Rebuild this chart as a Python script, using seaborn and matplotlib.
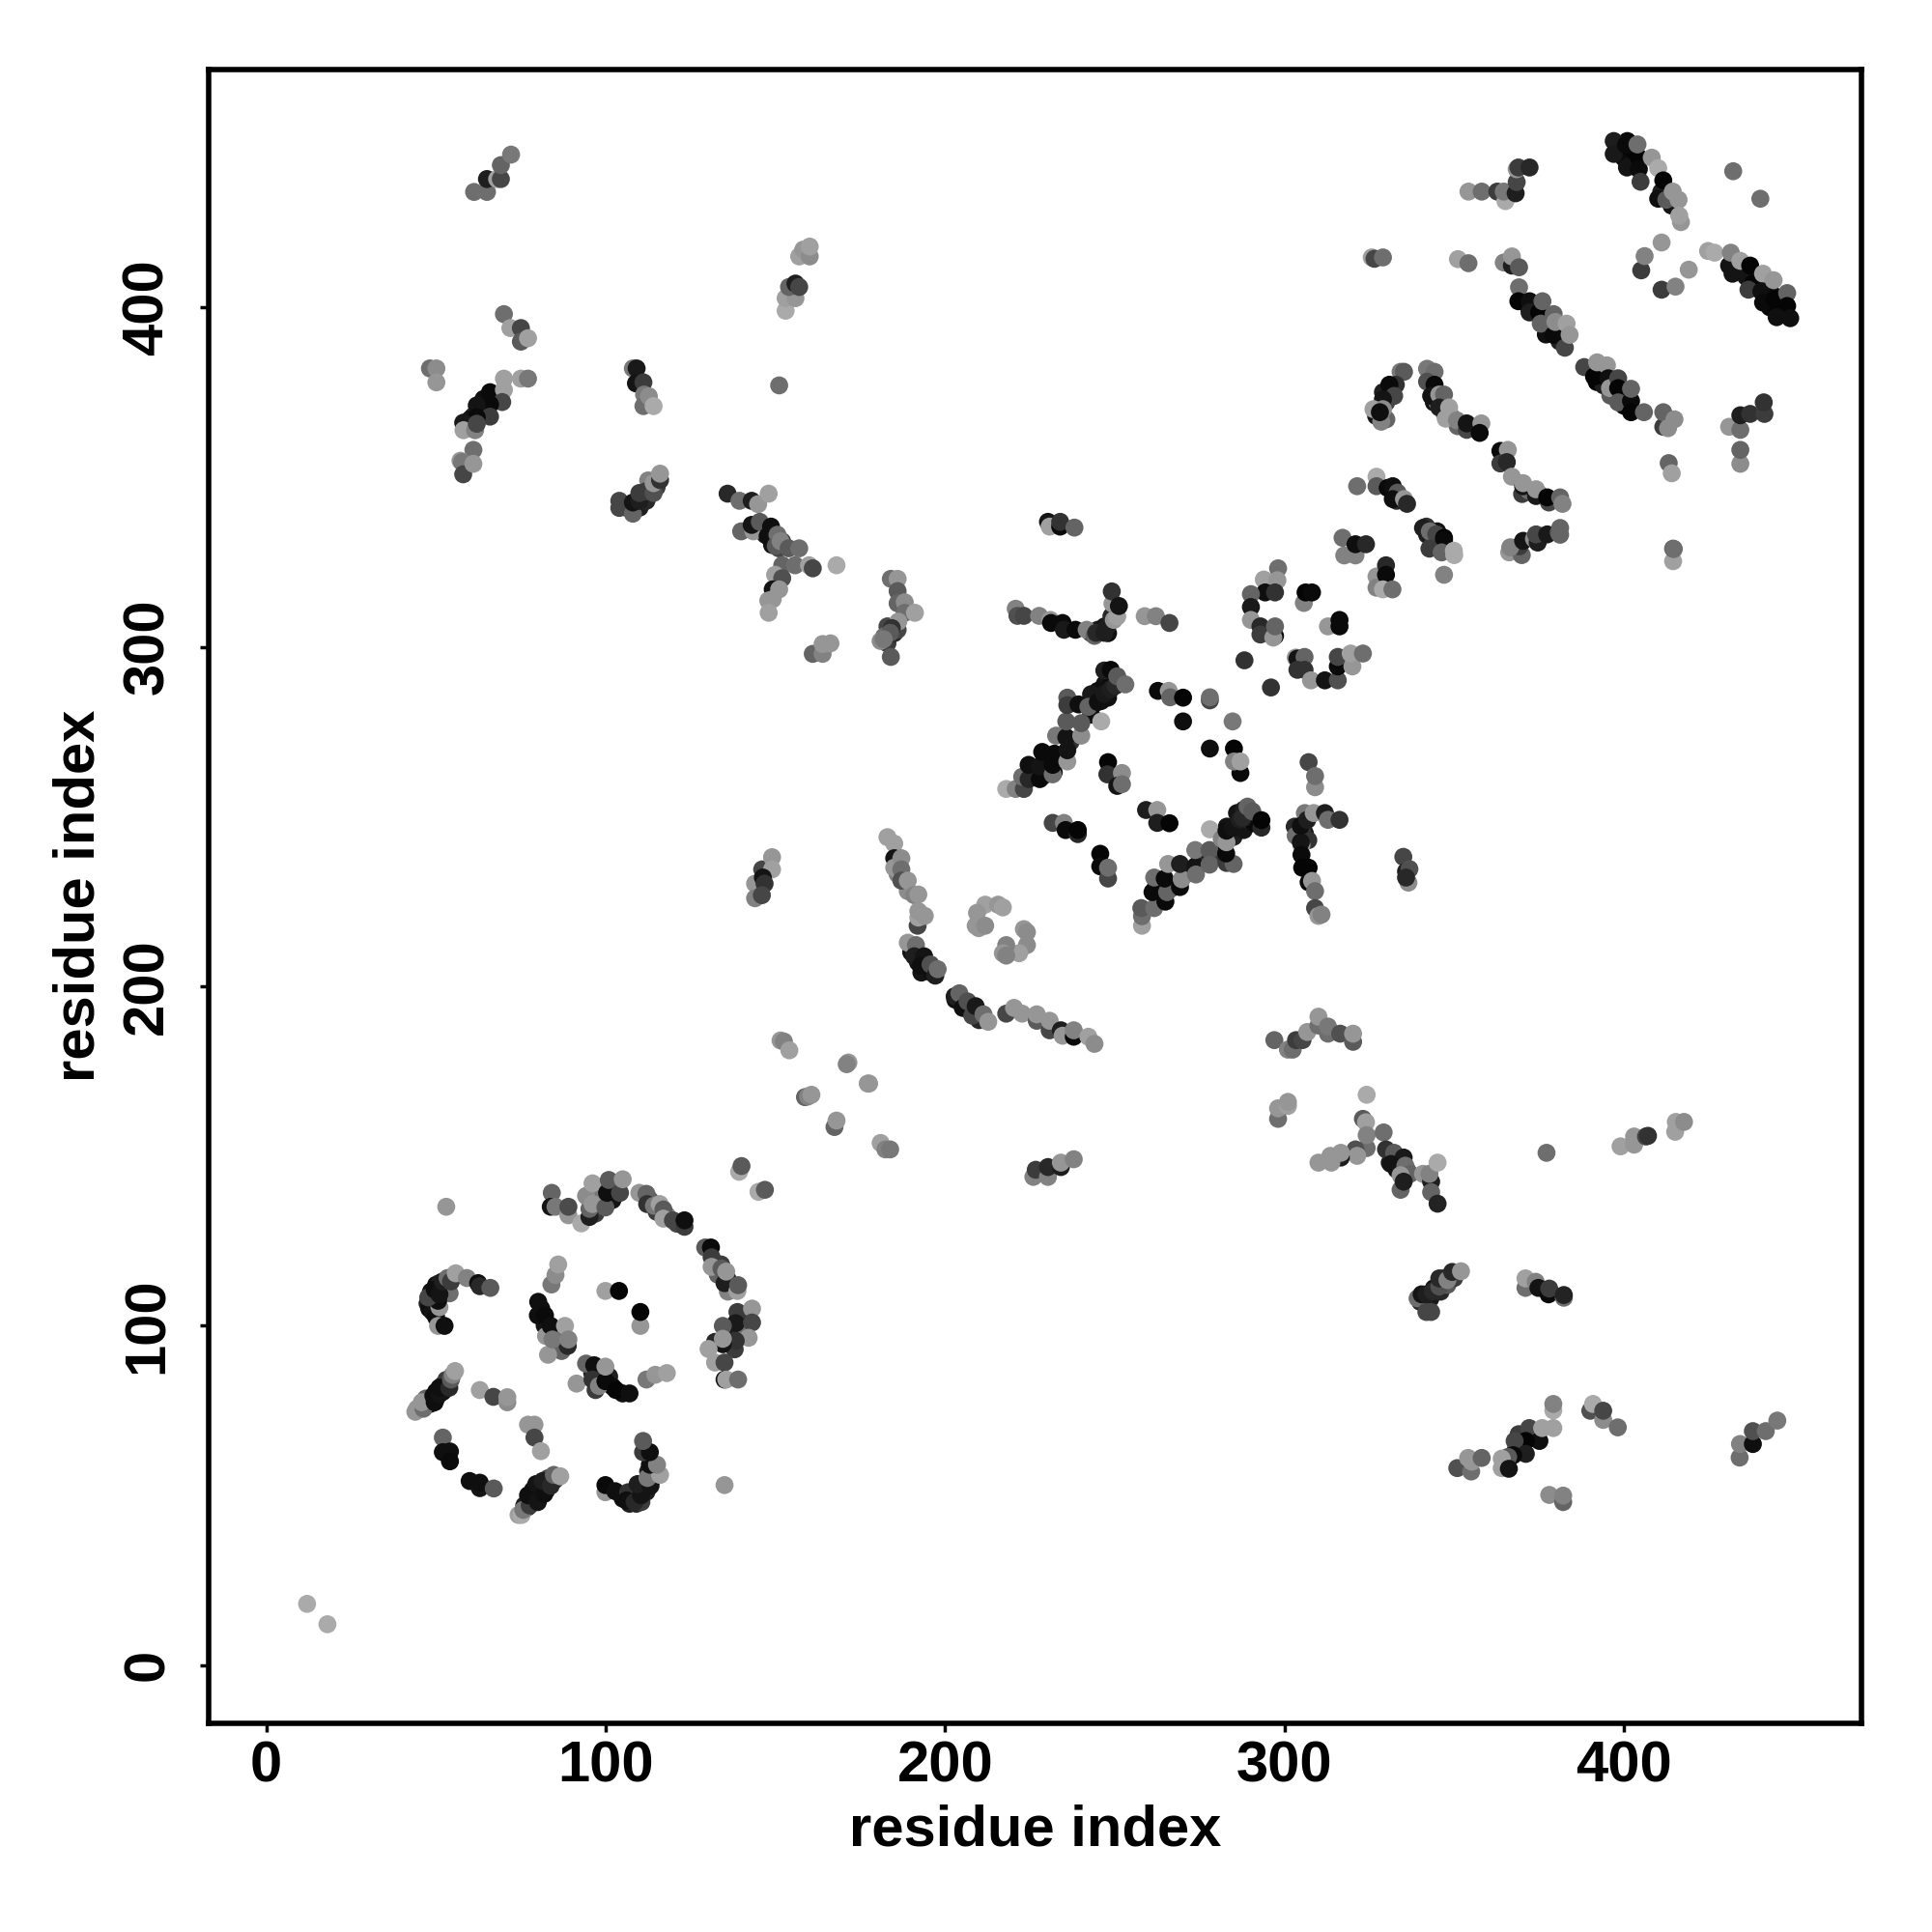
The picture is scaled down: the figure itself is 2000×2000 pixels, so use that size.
import numpy as np
import pandas as pd
import matplotlib
matplotlib.use("Agg")
import matplotlib.pyplot as plt
import seaborn as sns

# contact points as (residue i, residue j, grey level)
termini = [(12, 18, 170), (18, 12, 170)]

# points mostly hidden inside the dense bands, drawn first
dense_bands = [
    (47.5,106.5,30),(48,105,15),(49,104,20),(50,102.5,15),(48.5,110,20),(50,112,15),(51,112.5,30),(53,111,10),(54,109.5,110),
    (47,76.5,60),(48,78,40),(50,78.5,10),(50,80.5,10),(52,80.5,15),(52,82.5,30),(53,84,60),(47,78.5,100),(48.5,77,15),
    (76,47,30),(77,46.5,40),(78,48.5,15),(79,50,15),(78.5,51.5,20),(81,51,15),(80.5,52.5,15),(83,53.5,30),(82.5,51.5,20),(85,54.5,60),(83,55,70),
    (105,49,15),(107,47.5,30),(108,50,15),(109,47.5,40),(110.5,48,60),(112,51,30),(111,53,20),(113.5,54.5,50),(112.5,57,30),(114,57,120),
    (134,118,60),(133,115,100),(136,113.5,40),(136,110,130),(139,102,40),(141,103,30),(136,97,30),(140,98,60),(138,93,60),(141,99,110),
    (97,133,60),(97,137,140),(98,140,120),(102,141,30),(102,137,20),(103,142,60),(113,137,90),(115,133.5,60),(118,132.5,130),(121,130,70),
    (81,105,15),(82,100,20),(85,98,30),(86,97,100),(87,92.5,100),(96,86,40),(97,81,60),(101,85,30),(102,82,15),(105,80,15),
    (59.5,364.5,60),(61,368,40),(63.5,369,20),(64,373,15),(67,374,20),(60,367,20),(106,341,60),(110,341,30),(112,343,40),(113,347,100),(115,347,60),(112.5,349,130),
    (146,335,60),(147,333,40),(149,332,20),(151,329,70),(149,330,20),(152,331,60),(183,306,70),(182,303,110),(183,301,60),(185,304,40),(186,305,70),
    (232,263,20),(234,267,10),(229,266,10),(229,262,30),(226,263,15),(237,272,50),(243,280,15),(244,285,10),(246,284,20),(248,285,15),(247,289,20),(249,289,10),(251,290,30),(245,287,15),(243,286,25),
    (245,305,30),(247,306,20),(248,304,15),(243,304,60),(249,309,40),
    (283,247,20),(285,244,30),(286,247,15),(288,246,20),(286,251,20),(288,252,30),(289,249,30),(291,248,10),(262,229,10),(267,229,40),(271,233,30),(275,237,40),(279,238,60),(282,241,20),
    (303,247,40),(306,245,25),(305,246,60),(307,243,50),(306,251,120),
    (400,444,10),(402,442,15),(398,447,5),(401,449,10),(403,446,5),(412,434,10),(414,430,20),(411,434,30),
    (436,409,20),(438,407,5),(440,406,5),(442,403,5),(443,400,5),(446,400,5),(447,398,10),(443,405,5),(445,403,15),
    (372,400,30),(374,400,5),(377,397,5),(378,394,20),(380,392,15),(381,390,30),(377,392,15),
    (392,378,5),(394,377,30),(397,375,10),(399,373,5),(400,371,5),(401,374,10),(393,380,10),(396,374,90),
    (344,372,20),(345,372,110),(347,369,120),(349,368,110),(351,365,100),(329,375,30),(330,372,70),(331,374,30),(327,368,20),(329,368,60),(330,367,100),
    (370,345,60),(372,346,110),(375,345,120),(332,345,20),(334,344,10),(333,343,40),(342,333,30),(344,331,60),(345,334,20),
    (340,107,40),(342,107,15),(343,108,25),(344,111,20),(346,110,40),(348,112,90),(347,114,80),(350,114,60),
    (331,148,30),(333,148,50),(333,146,15),(335,145,60),(336,146,30),(332,149,70),(368,63,15),(369,63,40),(369,68,60),(373,67,5),
    (190,210,20),(191,210,60),(192,207,15),(194,207,5),(195,205,30),(193,204,20),(196,204,15),(205,195,25),(207,193,30),(208,193,15),(203,196,15),(210,190,40),
    (186,233,130),(189,228,140),
]

domain_one = [
    (53.0,135.0,150),(84.1,139.1,100),(83.8,135.0,20),(85.2,135.0,120),(89.0,132.5,150),(89.0,135.0,75),
    (92.8,130.1,170),(95.2,132.0,30),(95.2,134.4,100),(94.2,138.2,140),(96.1,135.8,150),(96.1,141.9,160),
    (99.9,134.8,90),(100.4,139.1,15),(100.9,142.9,90),(104.2,139.1,70),(105.0,143.1,150),
    (109.9,139.1,150),(112.0,138.8,100),(112.2,135.8,50),(114.2,135.3,120),(115.9,135.8,160),(117.0,134.2,90),
    (117.0,131.5,160),(119.8,131.0,70),(123.2,129.1,60),(123.2,131.0,15),
    (129.3,123.0,90),(131.0,123.0,10),(131.2,120.1,60),(131.2,117.3,150),(134.1,116.8,90),(135.0,112.5,30),
    (135.5,115.9,150),(138.8,110.2,160),(139.0,111.9,90),
    (138.8,104.0,60),(143.1,105.0,150),(138.3,100.7,25),(143.1,100.9,70),(134.5,99.9,90),(142.1,96.4,150),
    (138.3,95.5,50),(132.2,95.2,40),(134.5,94.5,20),(134.5,96.1,150),(130.3,93.1,160),(132.2,89.1,160),
    (135.0,89.1,70),(135.0,84.1,20),(135.5,84.1,160),(139.0,84.1,110),
    (99.9,110.2,160),(103.9,110.2,5),(110.2,99.9,150),(110.2,104.0,5),
    (84.0,112.1,120),(85.2,114.9,140),(86.0,118.0,160),(80.1,107.0,15),(80.0,103.0,15),(82.1,103.0,10),
    (82.4,96.9,150),(83.8,99.9,15),(88.0,99.9,160),(83.0,91.4,150),(88.8,94.0,40),(84.3,95.9,120),(89.0,95.9,130),
    (91.4,82.9,150),(94.2,88.8,100),(96.6,88.3,15),(96.1,84.1,50),(98.0,82.2,130),(99.9,83.6,10),(99.9,87.9,150),
    (103.0,81.0,5),(107.0,80.0,15),(112.0,84.1,120),(114.6,85.5,150),(118.0,86.0,160),
    (50.6,99.9,150),(52.5,99.9,15),(51.0,105.4,150),(50.6,107.3,15),(47.7,108.3,70),(49.6,110.6,15),(51.0,109.2,20),
    (52.0,113.0,30),(53.4,114.0,110),(54.4,113.0,60),(55.8,115.4,160),(59.1,114.0,130),(62.4,112.5,15),(62.9,111.6,40),(66.0,111.1,90),
    (43.9,74.6,150),(44.4,75.5,150),(46.3,75.5,110),(45.8,77.4,150),(49.6,77.4,15),(49.2,79.3,15),(51.0,79.8,20),
    (51.0,81.7,15),(53.9,81.7,40),(54.4,84.1,90),(54.9,85.5,130),(55.6,86.6,160),
    (62.9,81.0,160),(66.9,79.0,70),(71.0,77.4,140),(71.0,78.9,150),
    (52.0,67.0,100),(52.0,62.7,15),(54.1,62.9,15),(54.1,60.0,10),(59.9,54.2,15),(62.9,52.1,20),(62.9,53.7,15),(67.0,52.0,90),
    (77.1,70.8,150),(79.0,70.8,150),(79.0,67.0,70),(80.9,63.0,160),
    (74.3,44.2,160),(75.2,44.2,170),(75.7,45.7,120),(77.6,47.0,60),(77.1,50.0,15),(80.0,48.0,20),(79.5,53.3,20),
    (81.9,50.4,15),(81.4,54.2,30),(83.8,52.8,40),(84.7,56.0,100),(86.6,55.6,160),
    (99.9,50.9,150),(99.9,53.0,10),(102.8,51.2,15),(106.6,50.9,50),(106.1,48.5,15),(108.5,48.0,40),(110.4,50.0,20),
    (109.4,53.3,30),(113.2,52.8,20),(112.3,55.1,120),(116.0,56.0,160),(113.0,59.0,15),(115.1,59.0,130),(111.0,62.7,60),(113.0,62.7,15),(111.0,66.0,90),
    (135.0,53.0,150),(139.3,145.3,170),(140.0,147.0,90),(145.0,139.4,170),(146.9,140.0,90),
]

upper_left = [
    (61.2,434.0,110),(65.0,434.0,110),(65.0,437.8,30),(68.0,437.8,160),(69.1,437.8,70),(69.1,441.9,100),(72.1,445.0,120),
    (70.0,398.0,110),(71.9,393.9,160),(75.0,393.9,70),(75.0,389.9,90),(77.1,390.9,160),
    (48.2,382.0,110),(50.1,382.0,140),(50.1,377.9,150),
    (70.0,379.0,160),(75.0,379.0,160),(77.1,379.0,120),(65.9,375.0,10),(70.0,375.7,160),(69.5,372.1,70),(65.9,371.4,10),
    (62.0,371.1,20),(65.9,367.8,60),(62.0,367.6,10),(58.0,366.0,25),(58.1,363.8,160),(61.5,363.8,130),(62.0,365.7,70),
    (61.0,358.0,110),(57.2,354.8,150),(57.7,354.4,120),(58.0,350.8,70),(61.0,353.9,150),
    (108.0,382.0,120),(109.1,382.0,25),(108.9,377.6,20),(111.1,377.9,60),(111.3,374.3,120),(111.1,370.9,110),(112.7,373.8,140),(114.1,370.9,170),
    (151.1,377.0,110),(153.0,399.0,170),(153.0,402.7,160),(155.9,402.7,150),(154.0,406.0,100),(155.9,407.0,30),(157.0,406.0,70),
    (157.0,415.0,160),(158.2,417.0,150),(160.1,415.0,140),(160.1,417.9,160),
    (104.0,340.9,70),(104.0,343.0,70),(108.0,339.2,100),(108.0,342.5,20),(109.9,343.0,30),(109.9,345.3,60),(111.8,345.8,60),
    (114.1,345.3,80),(114.1,348.2,150),(116.0,349.1,50),(116.0,351.0,150),
    (135.9,345.1,40),(139.4,343.0,110),(143.0,343.0,30),(144.9,342.0,150),(148.0,345.1,160),(139.9,334.0,100),(143.5,334.0,150),(143.0,335.9,20),
    (145.4,336.8,90),(147.7,332.6,15),(148.7,335.4,15),(150.6,333.0,110),(150.1,329.7,90),(151.5,331.1,130),(153.9,329.0,90),(157.0,329.0,110),
    (152.0,324.0,100),(155.8,324.0,110),(159.9,324.0,160),(161.0,323.1,70),(168.0,324.0,170),
    (149.9,321.2,160),(152.0,320.2,80),(149.2,316.9,20),(151.1,316.9,150),(149.2,314.0,150),(147.9,313.6,150),(148.0,310.0,160),
    (161.0,297.9,100),(163.9,297.9,130),(163.9,300.8,150),(166.2,301.0,150),
    (184.0,320.0,110),(186.0,320.0,150),(186.0,316.4,90),(186.0,312.8,100),(188.1,313.1,140),(188.1,310.0,110),(191.1,310.0,160),
    (186.2,307.4,150),(184.3,305.5,50),(183.8,304.1,90),(181.0,301.7,140),(181.9,302.2,120),(184.0,297.0,90),
    (230.3,336.8,20),(230.8,335.4,160),(233.9,335.4,10),(233.9,336.8,50),(238.1,335.1,100),
]

mid_band = [
    (220.8,311.2,130),(221.3,309.1,80),(223.2,309.1,70),(227.7,309.1,130),(231.0,307.9,150),(231.2,307.0,10),(234.6,307.0,10),
    (235.0,305.0,25),(238.4,305.0,10),(241.7,305.0,130),(244.0,303.2,100),(244.5,304.1,40),(246.9,304.1,30),(247.8,306.0,30),
    (249.7,307.9,150),(250.7,308.9,160),(249.3,312.7,150),(249.1,316.3,50),(251.2,312.0,20),
    (258.8,309.0,150),(262.1,309.0,130),(266.1,307.0,70),
    (218.0,258.1,170),(220.8,258.1,130),(223.2,258.1,70),(222.7,261.7,110),(224.6,261.0,40),(224.6,265.2,15),(227.9,261.0,10),
    (227.9,264.7,20),(231.7,262.4,110),(231.7,265.2,10),(228.6,269.0,10),(232.2,268.5,10),(236.0,266.2,150),(236.0,269.5,20),
    (232.7,273.8,120),(235.7,273.3,20),(240.1,273.8,140),(240.1,277.5,90),(235.7,278.0,90),(246.0,278.0,170),
    (236.0,285.0,90),(236.0,282.8,60),(239.3,283.0,15),(242.2,282.3,100),(245.0,283.7,15),(246.9,286.1,25),(248.8,287.5,30),
    (250.2,288.5,40),(246.9,293.0,30),(248.8,293.2,10),(250.7,291.3,90),(253.1,288.9,110),
    (262.7,287.0,10),(265.9,287.0,150),(266.3,285.1,100),(270.1,285.0,5),(278.0,284.2,70),(278.0,285.1,110),(270.1,278.0,15),(284.7,278.0,120),
    (278.0,270.0,15),(285.1,270.0,5),(287.0,262.8,10),(285.1,266.2,130),(287.0,266.2,160),
    (248.0,266.0,5),(247.8,262.4,50),(252.1,262.8,140),(250.7,259.0,20),(252.1,259.5,110),
    (259.2,251.9,30),(262.5,251.9,150),(262.5,248.1,30),(266.1,248.0,5),
    (231.7,248.1,70),(235.0,248.1,130),(235.5,246.0,10),(239.1,244.8,40),(239.1,246.0,5),
    (245.7,239.0,5),(245.7,235.3,10),(248.0,231.7,70),(248.0,234.9,110),
    (258.0,217.8,160),(258.0,220.6,110),(257.8,223.0,90),(261.6,223.0,110),(261.1,227.7,10),(264.9,224.9,10),(265.4,227.7,100),
    (261.6,232.0,110),(264.7,231.7,10),(269.2,229.2,10),(269.7,231.5,140),(265.7,236.0,150),(269.2,236.0,30),(273.7,235.3,20),
    (273.9,232.9,110),(273.7,240.1,120),(277.9,240.1,90),(277.9,235.8,100),(282.9,236.3,60),(285.0,236.0,100),(282.8,239.1,10),
    (278.0,246.2,170),(281.5,243.4,130),(282.9,242.4,150),(282.9,245.8,15),(284.8,246.7,20),(286.8,249.1,30),(287.7,249.6,40),
    (289.1,252.9,100),(290.5,251.5,90),(293.2,246.7,40),(293.2,248.9,5),
    (307.1,266.0,70),(309.0,258.6,140),(309.0,261.9,110),
    (303.3,244.3,110),(305.0,241.5,150),(304.8,242.4,20),(304.8,247.2,15),(306.7,249.0,30),(308.6,251.0,150),(311.9,251.0,30),(312.8,249.0,110),(316.2,249.0,50),
    (305.0,238.7,10),(305.2,234.9,5),(307.1,234.9,5),(307.1,230.6,10),(308.1,231.0,150),(309.0,228.0,110),(309.0,223.0,70),(310.0,220.7,150),(310.9,221.1,130),
    (335.0,238.1,70),(335.8,233.8,30),(336.8,234.5,80),(336.5,230.5,140),(335.8,232.0,40),
    (298.1,323.1,110),(293.9,319.8,160),(297.9,319.6,150),(294.3,316.0,15),(297.2,316.0,50),(290.1,315.5,100),(290.1,311.7,25),(290.1,307.9,150),
    (292.9,306.0,40),(292.9,303.6,60),(297.2,303.2,10),(296.7,302.7,150),(297.2,306.0,100),
    (305.7,312.9,130),(306.2,316.0,5),(308.1,316.0,10),(312.8,306.0,150),(316.2,307.9,10),(316.2,306.0,10),
    (288.2,296.0,50),(296.0,288.0,50),
    (303.3,296.8,150),(303.8,296.5,20),(305.9,297.0,100),(303.8,293.2,50),(305.9,293.2,50),(307.8,290.1,150),(311.9,290.1,20),(315.7,290.1,80),
    (315.7,294.2,10),(315.7,297.0,70),(320.0,294.2,150),(319.5,298.0,160),(323.1,298.0,110),
    (317.6,326.9,130),(320.9,326.9,130),(317.1,332.1,110),(320.9,330.2,15),(324.0,330.2,40),(327.1,320.7,150),(327.1,317.4,130),
    (329.9,324.0,40),(329.9,321.2,10),(329.0,316.9,170),(331.8,316.9,110),
]

upper_right = [
    (321.4,347.3,110),(327.1,350.1,170),(327.1,347.3,90),(330.4,346.8,10),(331.9,347.3,15),(333.3,345.4,90),(331.9,343.5,15),(335.2,343.5,150),(336.1,342.1,40),
    (341.8,335.4,50),(340.8,335.0,30),(342.8,334.0,110),(344.7,333.1,70),(347.0,332.1,5),(347.0,331.4,10),(342.7,328.9,60),(346.3,327.8,100),(349.9,328.3,170),(350.0,327.0,170),(347.0,321.2,130),
    (366.2,327.8,150),(369.9,327.0,100),(369.2,329.6,60),(366.5,329.3,130),(370.3,331.2,20),(373.5,331.8,140),(374.6,330.7,30),(374.1,333.1,70),(377.4,333.1,25),(380.8,333.6,90),(381.2,333.0,100),(381.2,335.0,100),
    (414.5,325.2,160),(414.5,328.9,90),(414.7,328.8,110),
    (342.0,381.9,120),(344.2,381.0,110),(342.0,378.1,80),(344.2,377.2,10),(343.2,373.9,20),(345.6,374.3,150),(347.0,374.3,100),(345.6,370.5,30),(348.5,370.5,160),
    (347.5,367.2,160),(350.8,366.7,130),(353.7,363.9,70),(353.7,365.8,20),(358.0,365.8,150),(357.5,363.0,10),
    (334.2,381.0,120),(335.2,381.0,90),(332.8,377.2,50),(330.9,377.2,10),(332.3,373.9,70),(329.0,372.9,20),(326.2,370.0,160),(329.0,370.0,140),(328.5,366.3,130),(328.1,369.1,15),
    (363.6,357.7,10),(365.8,358.0,150),(363.6,354.0,60),(365.5,354.4,40),(367.0,350.1,150),(370.3,347.3,20),(370.3,348.2,150),(374.1,344.4,25),(374.1,346.4,150),
    (377.9,342.5,70),(377.4,344.0,5),(381.2,344.0,100),(381.9,342.1,130),
    (388.3,382.4,70),(391.2,379.6,5),(392.1,383.8,150),(395.0,382.9,150),(395.4,379.1,15),(395.9,376.2,150),(398.3,379.1,70),(398.3,376.2,5),(398.3,372.0,90),
    (402.1,372.4,10),(402.1,369.1,5),(402.1,376.0,100),(405.9,369.1,100),(411.6,364.8,60),(411.6,369.1,100),(413.0,364.4,140),(414.9,367.0,140),
    (413.2,354.1,100),(414.1,351.1,160),(434.3,353.9,140),(434.3,358.0,100),(431.0,364.8,150),(434.3,363.9,110),(434.3,368.2,30),(437.2,368.6,50),(441.4,368.6,60),(441.2,372.0,50),
    (369.1,405.9,110),(368.9,401.8,5),(372.2,401.8,15),(372.2,398.5,30),(375.0,398.5,5),(376.0,401.8,100),(379.3,398.0,100),(375.5,395.2,100),(379.3,391.9,10),(379.8,395.7,140),
    (383.1,395.2,160),(382.6,388.1,70),(384.0,391.9,150),
    (354.2,434.1,150),(358.1,434.1,110),(362.7,434.1,60),(365.1,431.3,170),(364.6,434.1,120),(368.1,433.6,30),(368.4,436.9,70),(368.4,440.7,150),(368.9,441.2,60),(372.2,441.2,40),
    (325.7,414.7,160),(326.5,414.3,70),(329.0,414.7,110),(351.1,414.2,160),(354.2,413.0,110),(364.6,413.2,130),(367.0,412.3,30),(367.0,415.0,150),(369.1,411.8,90),
    (397.0,449.0,30),(397.0,445.2,25),(400.6,447.9,10),(400.9,441.2,20),(404.4,444.1,5),(404.4,440.7,10),(404.0,448.0,110),(404.9,437.0,60),(408.2,444.1,150),(410.1,441.0,170),
    (411.6,437.4,5),(410.1,432.0,15),(412.5,431.7,90),(414.4,434.1,150),(416.1,431.7,150),(416.8,425.1,150),(416.3,427.0,160),
    (432.2,440.1,110),(440.2,432.0,110),(405.1,410.9,60),(406.1,415.1,130),(411.1,419.1,150),(419.1,411.1,150),(411.1,405.2,60),(415.2,406.1,130),
    (424.8,416.6,160),(426.7,416.1,170),(431.0,412.3,20),(431.5,416.1,130),(432.0,409.9,20),(434.3,413.7,160),(437.2,412.3,5),(436.7,405.2,60),(441.0,409.9,160),
    (440.5,404.7,15),(441.0,401.4,10),(444.1,408.0,150),(444.3,402.3,5),(448.1,404.2,100),(448.1,400.4,5),(445.0,397.1,15),(449.0,396.8,15),
]

lower_middle = [
    (146.1,234.4,70),(149.0,238.0,150),(149.0,234.4,160),(144.0,230.2,150),(146.3,232.0,20),(146.8,230.2,50),(144.0,225.9,130),(146.0,226.8,70),
    (183.0,243.9,160),(185.0,242.0,160),(185.0,237.7,20),(185.0,234.9,150),(187.1,237.7,140),(187.1,234.4,110),(187.1,231.1,80),(189.0,231.1,150),
    (190.9,226.8,130),(192.1,227.0,150),(191.9,217.8,70),(192.1,220.2,160),(192.1,222.1,150),(194.0,220.7,150),
    (189.0,212.8,150),(191.4,212.1,110),(190.9,208.8,30),(193.8,208.8,20),(192.8,206.0,15),(195.7,206.4,80),(197.1,203.1,30),(197.8,205.0,110),
    (202.8,197.0,30),(204.2,197.9,100),(205.2,193.6,15),(206.6,195.5,80),(208.0,191.3,70),(209.0,194.1,25),(211.3,191.7,110),(212.7,189.5,150),
    (218.0,191.9,70),(220.3,193.6,150),(222.7,191.9,150),(227.0,189.8,90),(227.0,191.7,150),(230.8,187.0,70),(230.8,189.8,150),(234.1,187.0,30),(234.6,185.4,150),
    (237.9,185.1,10),(237.9,187.0,130),(242.2,185.1,160),(244.0,183.0,140),
    (211.8,224.0,160),(215.6,224.0,150),(217.0,223.2,160),(209.4,221.6,150),(209.0,217.8,150),(209.9,217.1,150),(211.8,217.8,140),
    (223.2,216.8,150),(224.1,215.9,140),(224.1,212.1,140),(221.8,209.7,160),(218.0,212.1,130),(217.0,209.7,150),(218.0,209.0,130),
    (151.5,184.0,150),(152.5,183.7,130),(154.1,181.1,160),(171.5,177.5,150),(171.0,177.0,130),(177.2,171.3,150),(177.6,171.3,150),
    (158.7,167.3,100),(159.6,167.5,130),(160.6,168.0,150),(167.4,158.5,100),(168.0,160.4,150),(181.0,153.8,160),(182.4,151.9,130),(183.8,151.9,120),
    (226.0,143.8,130),(226.7,145.9,60),(230.3,143.8,130),(230.3,146.7,40),(234.1,146.7,30),(234.1,148.0,150),(237.9,149.0,130),
]

lower_right = [
    (297.0,184.1,100),(301.0,181.3,130),(302.4,181.3,110),(303.4,184.1,60),(305.3,184.1,70),(306.7,186.5,150),(310.0,188.4,110),(310.0,191.0,150),(312.8,186.0,110),
    (312.8,188.1,120),(316.4,186.0,80),(320.2,183.6,90),(320.2,186.0,150),
    (298.1,160.9,110),(298.1,164.0,150),(301.0,164.7,160),(301.0,165.9,150),
    (324.2,168.0,170),(323.1,160.9,90),(324.0,159.9,160),(324.2,152.3,110),(324.2,156.1,130),(329.2,156.9,110),(320.9,151.9,80),(321.4,150.0,150),(316.6,149.5,30),
    (316.6,150.9,150),(313.5,150.0,150),(313.8,148.0,150),(310.0,148.0,150),
    (329.9,151.9,50),(332.3,150.9,90),(335.1,149.5,25),(331.4,147.6,20),(335.6,147.1,110),(337.0,144.7,100),(334.2,140.0,100),(334.2,144.3,150),(335.1,142.4,30),
    (340.8,144.7,150),(343.2,142.4,30),(342.7,144.7,130),(345.1,148.0,170),(343.2,139.3,100),(345.1,135.9,35),
    (377.2,150.9,110),(399.0,152.8,160),(403.0,153.3,150),(403.0,155.7,150),(406.5,155.7,70),(407.1,155.9,50),(415.1,157.1,160),(415.3,160.0,160),(417.7,160.0,140),
    (339.2,108.0,110),(341.8,104.0,70),(343.2,104.0,70),(340.4,109.2,20),(341.8,109.2,30),(343.7,110.1,40),(345.6,111.5,80),(345.6,113.9,40),(348.0,113.4,130),(349.4,115.8,40),(352.0,116.0,150),
    (371.0,111.1,110),(371.0,113.9,160),(374.0,112.9,130),(374.8,111.1,20),(377.8,109.2,10),(378.0,110.9,60),(382.3,108.2,110),(382.3,109.0,35),
    (379.2,75.0,170),(379.2,76.9,130),(379.2,69.8,160),(372.1,69.8,70),(375.1,66.0,15),(371.1,66.0,5),(367.8,66.0,70),(371.1,62.2,30),(367.4,61.8,10),(365.9,61.3,90),
    (375.9,69.8,160),(364.0,60.8,160),(364.0,58.0,160),(366.1,57.8,20),
    (350.9,58.0,80),(355.0,57.0,110),(355.2,59.9,150),(354.1,61.0,150),(358.1,61.0,100),
    (378.0,50.1,140),(382.1,48.0,100),(382.1,49.9,130),
    (390.1,74.9,80),(390.9,76.9,170),(393.9,72.2,140),(393.9,74.9,70),(398.2,70.0,110),
    (434.1,61.1,110),(434.2,65.1,130),(438.0,65.1,15),(438.0,68.9,80),(441.8,68.9,110),(445.2,72.0,120),
]

x_ticks = [0, 100, 200, 300, 400]
y_ticks = [0, 100, 200, 300, 400]
axis_label = "residue index"

regions = [termini, dense_bands, domain_one, upper_left, mid_band, upper_right, lower_middle, lower_right]
df = pd.DataFrame([p for r in regions for p in r], columns=["res_i", "res_j", "level"])

sns.set_theme(style="white")
plt.rcParams["font.family"] = ["Liberation Sans", "DejaVu Sans"]
plt.rcParams["font.weight"] = "bold"

fig = plt.figure(figsize=(20, 20), dpi=100, facecolor="white")
ax = fig.add_axes([216 / 2000, 216 / 2000, 1711 / 2000, 1712.5 / 2000])

sns.scatterplot(data=df, x="res_i", y="res_j", hue="level", palette="gray", hue_norm=(0, 255),
                s=180, linewidth=0, legend=False, ax=ax)

ax.set_xlim(-17, 470)
ax.set_ylim(-17.2, 470.2)
ax.set_xticks(x_ticks)
ax.set_yticks(y_ticks)
ax.tick_params(axis="x", bottom=True, length=6.3, width=2.5, color="black",
               labelsize=43, labelcolor="black", pad=6)
ax.tick_params(axis="y", left=True, length=6.3, width=2.5, color="black",
               labelsize=43, labelcolor="black", pad=19)
plt.setp(ax.get_yticklabels(), rotation=90, va="center", fontweight="bold")
plt.setp(ax.get_xticklabels(), fontweight="bold")
ax.set_xlabel(axis_label, fontsize=43, fontweight="bold", color="black", labelpad=8)
ax.set_ylabel(axis_label, fontsize=43, fontweight="bold", color="black", labelpad=12)
for spine in ax.spines.values():
    spine.set_visible(True)
    spine.set_color("black")
    spine.set_linewidth(4.0)

fig.savefig("out.png", dpi=100, facecolor="white")
